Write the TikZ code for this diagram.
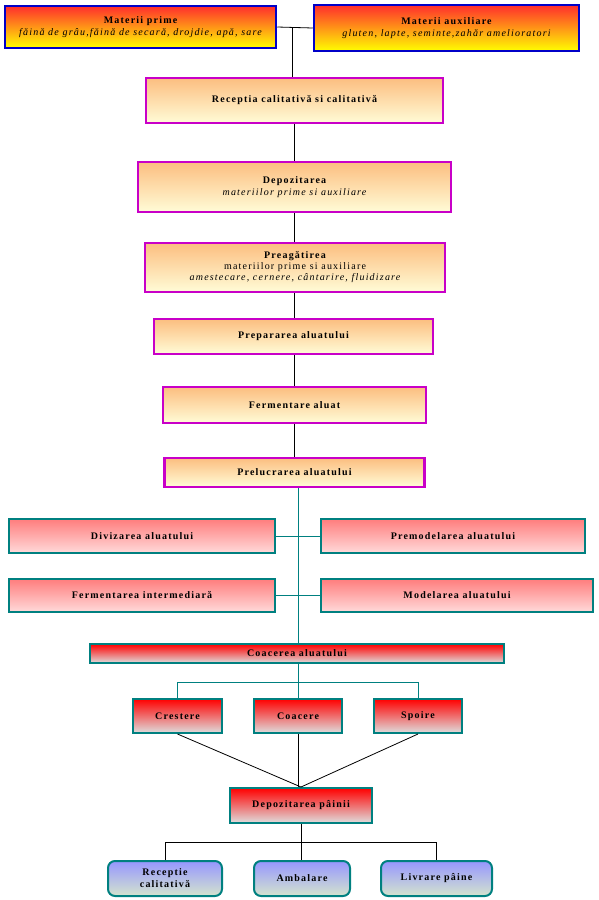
\documentclass[tikz,border=0pt]{standalone}
\usepackage{fontspec}
\setmainfont{Liberation Serif}[LetterSpace=12]
\definecolor{bluebd}{RGB}{0,0,200}
\definecolor{magbd}{RGB}{200,0,200}
\definecolor{tealbd}{RGB}{0,128,128}
\definecolor{redT}{RGB}{255,45,45}
\definecolor{orgM}{RGB}{255,150,40}
\definecolor{yelB}{RGB}{255,255,0}
\definecolor{peachT}{RGB}{252,190,128}
\definecolor{peachB}{RGB}{255,252,215}
\definecolor{pinkT}{RGB}{255,125,125}
\definecolor{pinkB}{RGB}{255,218,218}
\definecolor{rT}{RGB}{255,0,0}
\definecolor{rB}{RGB}{222,222,222}
\definecolor{lavT}{RGB}{150,150,255}
\definecolor{lavB}{RGB}{212,228,205}
\begin{document}
\begin{tikzpicture}[x=1pt,y=-1pt,
  box/.style={draw, align=center, inner sep=0pt, text=black,
    font=\fontsize{10}{12}\selectfont\bfseries},
  sz/.style 2 args={minimum width=#1pt, minimum height=#2pt},
  topbox/.style={box, draw=bluebd, line width=2.5pt, top color=redT, middle color=orgM, bottom color=yelB},
  midbox/.style={box, draw=magbd, line width=2.5pt, top color=peachT, bottom color=peachB},
  pinkbox/.style={box, draw=tealbd, line width=2pt, top color=pinkT, bottom color=pinkB},
  redbox/.style={box, draw=tealbd, line width=2pt, top color=rT, bottom color=rB},
  lavbox/.style={box, draw=tealbd, line width=2pt, rounded corners=7pt, top color=lavT, bottom color=lavB},
  blk/.style={draw=black, line width=0.8pt},
  tl/.style={draw=tealbd, line width=0.8pt}
]
\fill[white] (0,0) rectangle (598,900);
\useasboundingbox (0,0) rectangle (598,900);

% top row
\node[topbox, sz={271}{42}] (mp) at (140.5,27) {Materii prime\\ {\mdseries\itshape făină de grâu,făină de secară, drojdie, apă, sare}};
\node[topbox, sz={265}{46}] (ma) at (446.5,28) {Materii auxiliare\\ {\mdseries\itshape gluten, lapte, seminte,zahăr amelioratori}};

% middle chain
\node[midbox, sz={297}{45}] (rec) at (294.5,100.5) {Receptia calitativă si calitativă};
\node[midbox, sz={313}{50}] (dep) at (294.5,187) {Depozitarea\\ {\mdseries\itshape materiilor prime si auxiliare}};
\node[midbox, sz={300}{49}] (pre) at (295,267.5) {Preagătirea\\[-1pt] {\mdseries materiilor prime si auxiliare}\\[-1pt] {\mdseries\itshape amestecare, cernere, cântarire, fluidizare}};
\node[midbox, sz={279}{35}] (prep) at (293.5,336.5) {Prepararea aluatului};
\node[midbox, sz={263}{36}] (ferm) at (294.5,405) {Fermentare aluat};
\node[midbox, sz={260}{29}] (prel) at (294.5,472.5) {Prelucrarea aluatului};

% pink boxes
\node[pinkbox, sz={266}{34}] (div) at (142,536) {Divizarea aluatului};
\node[pinkbox, sz={264}{34}] (prem) at (453,536) {Premodelarea aluatului};
\node[pinkbox, sz={266}{33}] (fint) at (142,595.5) {Fermentarea intermediară};
\node[pinkbox, sz={272}{33}] (mod) at (457,595.5) {Modelarea aluatului};

% red boxes
\node[redbox, sz={414}{19}] (coac) at (297,653.5) {Coacerea aluatului};
\node[redbox, sz={89}{34}] (cres) at (177.5,716) {Crestere};
\node[redbox, sz={88}{34}] (coa) at (298,716) {Coacere};
\node[redbox, sz={88}{34}] (spo) at (418,716) {Spoire};
\node[redbox, sz={142}{35}] (dpa) at (301,805.5) {Depozitarea pâinii};

% lavender boxes
\node[lavbox, sz={114}{35}] (rc) at (165,878.5) {Receptie\\calitativă};
\node[lavbox, sz={96}{35}] (amb) at (302,878.5) {Ambalare};
\node[lavbox, sz={111}{35}] (liv) at (436.5,878.5) {Livrare pâine};

% connectors top
\coordinate (j) at (292,28);
\coordinate (ms) at (294,0);
\draw[blk] (mp.east) -- (ma.west);
\draw[blk] (j) -- (j |- rec.north);
\draw[blk] (ms |- rec.south) -- (ms |- dep.north);
\draw[blk] (ms |- dep.south) -- (ms |- pre.north);
\draw[blk] (ms |- pre.south) -- (ms |- prep.north);
\draw[blk] (ms |- prep.south) -- (ms |- ferm.north);
\draw[blk] (ms |- ferm.south) -- (ms |- prel.north);

% teal spine
\coordinate (sp) at (298,0);
\draw[tl] (sp |- prel.south) -- (sp |- coac.north);
\draw[tl] (div.east) -- (prem.west);
\draw[tl] (fint.east) -- (mod.west);

% coacerea children
\coordinate (h1) at (0,682);
\draw[tl] (coa.north |- coac.south) -- (coa.north);
\draw[tl] (cres.north) -- (cres.north |- h1) -- (spo.north |- h1) -- (spo.north);

% to depozitarea painii
\draw[blk] (cres.south) -- (dpa.north);
\draw[blk] (coa.south) -- (coa.south |- dpa.north);
\draw[blk] (spo.south) -- (dpa.north);

% bottom
\coordinate (h2) at (0,842);
\draw[blk] (dpa.south) -- (dpa.south |- amb.north);
\draw[blk] (rc.north) -- (rc.north |- h2) -- (liv.north |- h2) -- (liv.north);
\end{tikzpicture}
\end{document}
